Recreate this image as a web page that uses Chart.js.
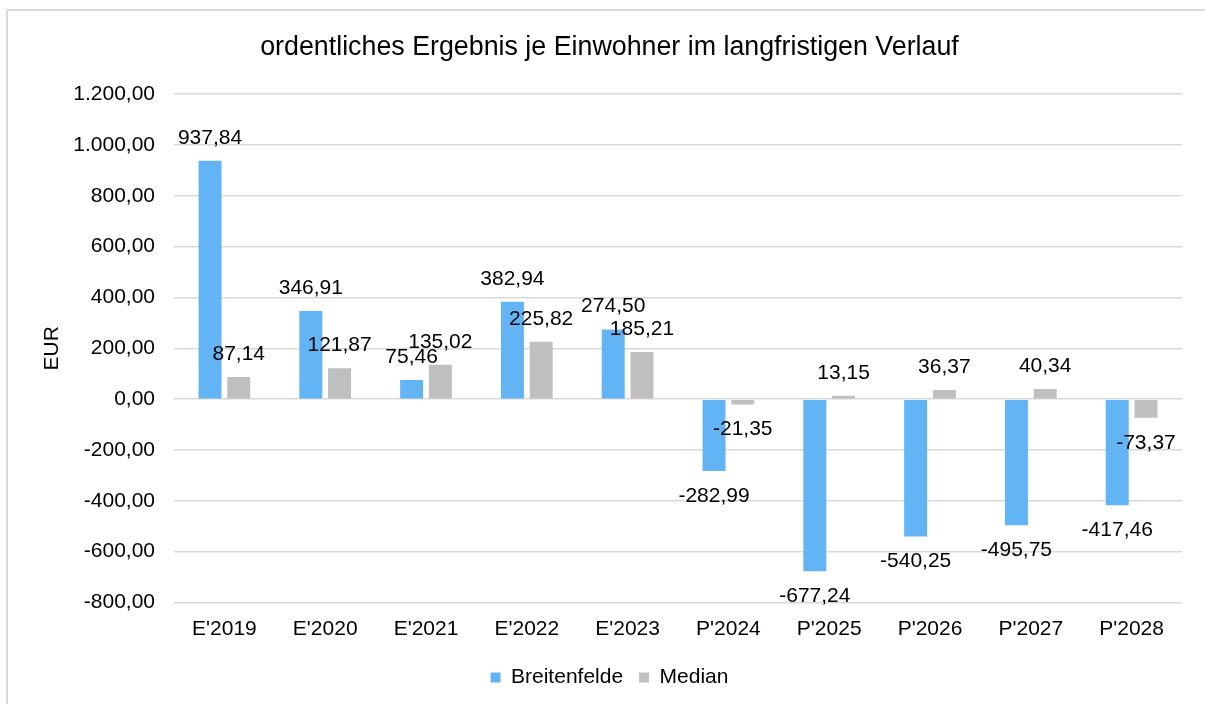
<!DOCTYPE html>
<html>
<head>
<meta charset="utf-8">
<script src="https://cdn.jsdelivr.net/npm/chart.js@4"></script>
<style>
  html, body { margin: 0; padding: 0; background: #fff; overflow: hidden; }
  #frame { position: absolute; left: 6px; top: 9px; width: 1400px; height: 900px;
           border-left: 2px solid #D9D9D9; border-top: 2px solid #D9D9D9; }
  #c { position: absolute; left: 0; top: 0; }
</style>
</head>
<body>
<div id="frame"></div>
<canvas id="c" width="1205" height="704"></canvas>
<script>
const categories = ["E'2019", "E'2020", "E'2021", "E'2022", "E'2023", "P'2024", "P'2025", "P'2026", "P'2027", "P'2028"];
const breitenfelde = [937.84, 346.91, 75.46, 382.94, 274.50, -282.99, -677.24, -540.25, -495.75, -417.46];
const median = [87.14, 121.87, 135.02, 225.82, 185.21, -21.35, 13.15, 36.37, 40.34, -73.37];
const seriesNames = ["Breitenfelde", "Median"];
const titleText = "ordentliches Ergebnis je Einwohner im langfristigen Verlauf";
const yAxisTitle = "EUR";
const yMin = -800, yMax = 1200, yStep = 200;

const FONT = "'Liberation Sans', Arial, sans-serif";

function deFormat(v) {
  const neg = v < 0;
  const s = Math.abs(v).toFixed(2);
  let [int, dec] = s.split('.');
  int = int.replace(/\B(?=(\d{3})+(?!\d))/g, '.');
  return (neg ? '-' : '') + int + ',' + dec;
}

const dataLabels = {
  id: 'dataLabels',
  afterDatasetsDraw(chart) {
    const ctx = chart.ctx;
    ctx.save();
    ctx.font = '21px ' + FONT;
    ctx.fillStyle = '#000';
    ctx.textAlign = 'center';
    ctx.textBaseline = 'middle';
    chart.data.datasets.forEach((ds, di) => {
      const meta = chart.getDatasetMeta(di);
      meta.data.forEach((bar, i) => {
        const v = ds.data[i];
        const y = v >= 0 ? bar.y - 23 : bar.y + 25;
        ctx.fillText(deFormat(v), bar.x, y);
      });
    });
    ctx.restore();
  }
};

new Chart(document.getElementById('c'), {
  type: 'bar',
  data: {
    labels: categories,
    datasets: [
      { label: seriesNames[0], data: breitenfelde, backgroundColor: '#63B4F5',
        categoryPercentage: 0.57, barPercentage: 0.8 },
      { label: seriesNames[1], data: median, backgroundColor: '#BFBFBF',
        categoryPercentage: 0.57, barPercentage: 0.8 }
    ]
  },
  options: {
    responsive: false,
    animation: false,
    devicePixelRatio: 1,
    layout: { padding: { top: 0, left: 37, right: 23, bottom: 6 } },
    plugins: {
      title: {
        display: true, text: titleText, color: '#000',
        font: { family: FONT, size: 26.8, weight: 'normal', lineHeight: 1.2 },
        padding: { top: 31.4, bottom: 30.6 }
      },
      legend: {
        position: 'bottom',
        labels: {
          color: '#000', boxWidth: 10, boxHeight: 10, padding: 16,
          font: { family: FONT, size: 21 }
        }
      },
      tooltip: { enabled: false }
    },
    scales: {
      x: {
        grid: { display: false, drawTicks: false },
        border: { display: false },
        ticks: { color: '#000', padding: 14, font: { family: FONT, size: 21, lineHeight: 1.2 }, maxRotation: 0, autoSkip: false },
        afterFit: s => { s.height = 48.5; }
      },
      y: {
        min: yMin, max: yMax,
        grid: { color: '#D9D9D9', lineWidth: 1.5, drawTicks: false },
        border: { display: false },
        ticks: { stepSize: yStep, color: '#000', padding: 19,
          font: { family: FONT, size: 21, lineHeight: 1.2 },
          callback: v => deFormat(v) },
        title: { display: true, text: yAxisTitle, color: '#000',
          font: { family: FONT, size: 21, lineHeight: 1.2 },
          padding: { top: 2.4, bottom: 0 } },
        afterFit: s => { s.width = 137; }
      }
    }
  },
  plugins: [dataLabels]
});
</script>
</body>
</html>
